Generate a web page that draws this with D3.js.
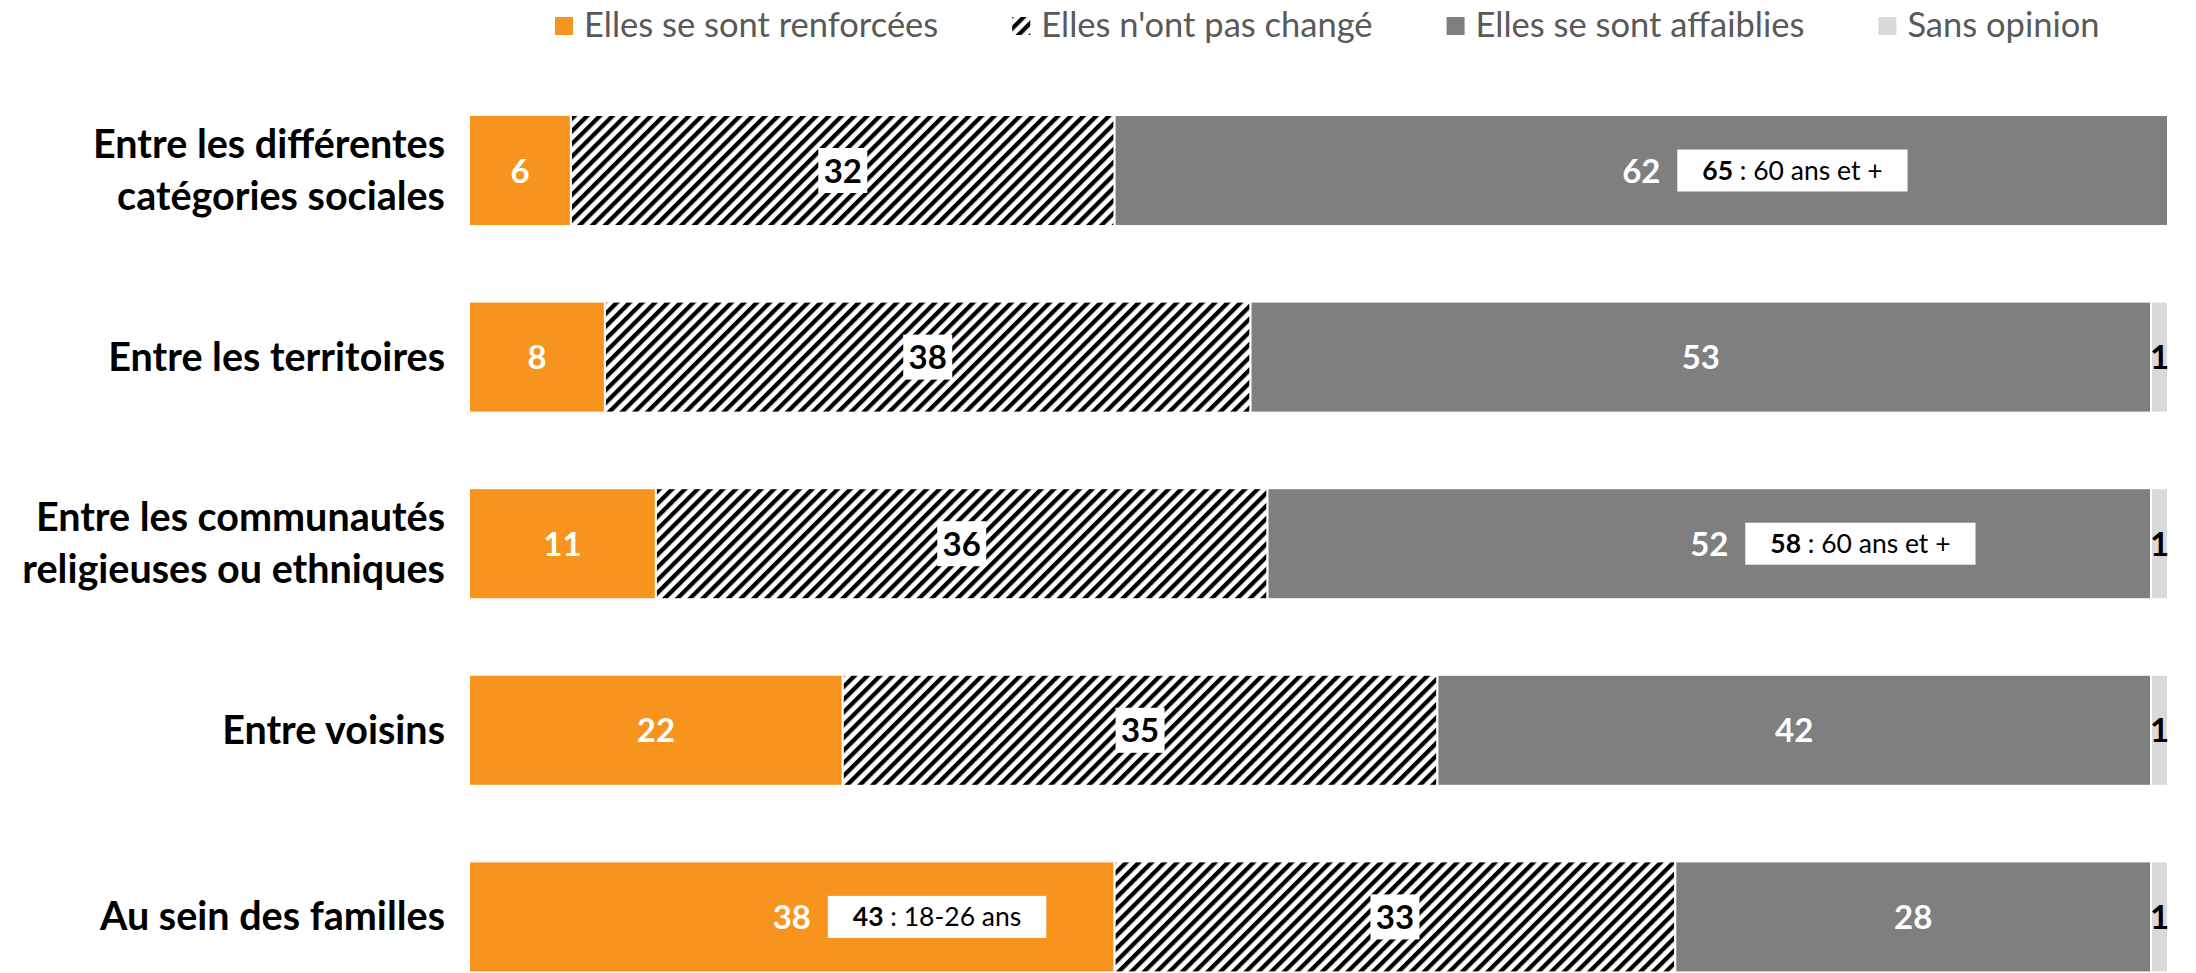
<!DOCTYPE html>
<html>
<head>
<meta charset="utf-8">
<script src="https://cdn.jsdelivr.net/npm/d3@7"></script>
<style>
    body { margin: 0; background: #fff; }
    svg { display: block; font-family: Lato, "Open Sans", sans-serif; }
</style>
</head>
<body>
<div id="chart"></div>
<script>
'use strict';

// categories (one array of lines per bar)
let categories = [
    ["Entre les différentes", "catégories sociales"],
    ["Entre les territoires"],
    ["Entre les communautés", "religieuses ou ethniques"],
    ["Entre voisins"],
    ["Au sein des familles"]
];

// series values, %
let renforcees  = [6, 8, 11, 22, 38];
let pasChange   = [32, 38, 36, 35, 33];
let affaiblies  = [62, 53, 52, 42, 28];
let sansOpinion = [0, 1, 1, 1, 1];

let seriesNames = ["Elles se sont renforcées", "Elles n'ont pas changé", "Elles se sont affaiblies", "Sans opinion"];

// sub-group callouts: bar index, series index, value, text
let calloutRow    = [0, 2, 4];
let calloutSeries = [2, 2, 0];
let calloutValue  = [65, 58, 43];
let calloutText   = ["60 ans et +", "60 ans et +", "18-26 ans"];

const WIDTH = 2196, HEIGHT = 973;

let svg = d3.select("#chart").append("svg")
    .attr("width", WIDTH)
    .attr("height", HEIGHT);

// hatch for "n'ont pas changé"
let defs = svg.append("defs");
defs.append("pattern")
    .attr("id", "hatch")
    .attr("patternUnits", "userSpaceOnUse")
    .attr("width", 9)
    .attr("height", 9)
    .attr("patternTransform", "rotate(45)")
    .call(p => {
        p.append("rect").attr("width", 9).attr("height", 9).attr("fill", "#fff");
        p.append("rect").attr("width", 4.3).attr("height", 9).attr("fill", "#000");
    });

let fills = ["#F7941D", "url(#hatch)", "#7F7F7F", "#D9D9D9"];
let labelColors = ["#fff", "#000", "#fff", "#000"];

let keys = categories.map((c, i) => i);
let values = [renforcees, pasChange, affaiblies, sansOpinion];

// stack the rows
let rows = keys.map(i => {
    let acc = 0;
    return values.map((s, j) => {
        let d = {row: i, series: j, x0: acc, x1: acc + s[i], value: s[i]};
        acc += s[i];
        return d;
    });
});

let x = d3.scaleLinear().domain([0, 100]).range([469, 2168]);
let y = d3.scaleBand().domain(keys).range([115, 972.4]).paddingInner(0.405).paddingOuter(0);

// bars
let rowG = svg.append("g").selectAll("g")
    .data(rows)
    .join("g");

rowG.selectAll("rect")
    .data(d => d.filter(s => s.value > 0))
    .join("rect")
    .attr("x", d => x(d.x0))
    .attr("y", d => y(d.row))
    .attr("width", d => x(d.x1) - x(d.x0))
    .attr("height", y.bandwidth())
    .attr("fill", d => fills[d.series])
    .attr("stroke", "#fff")
    .attr("stroke-width", 2);

// value labels
let labels = rowG.selectAll("g.lbl")
    .data(d => d.filter(s => s.value > 0))
    .join("g")
    .attr("class", "lbl")
    .attr("transform", d => `translate(${(x(d.x0) + x(d.x1)) / 2},${y(d.row) + y.bandwidth() / 2})`);

labels.filter(d => d.series === 1)
    .append("rect")
    .attr("x", -24.5)
    .attr("y", -22.5)
    .attr("width", 49)
    .attr("height", 45)
    .attr("fill", "#fff");

labels.append("text")
    .attr("text-anchor", "middle")
    .attr("y", 12)
    .attr("font-size", 33)
    .attr("font-weight", "bold")
    .attr("fill", d => labelColors[d.series])
    .text(d => d.value);

// callouts next to a value
calloutRow.forEach((r, k) => {
    let seg = rows[r][calloutSeries[k]];
    let cx = (x(seg.x0) + x(seg.x1)) / 2 + 36;
    let cy = y(r) + y.bandwidth() / 2;
    let g = svg.append("g").attr("transform", `translate(${cx},${cy})`);
    let box = g.append("rect").attr("fill", "#fff");
    let t = g.append("text")
        .attr("font-size", 26.5)
        .attr("fill", "#000")
        .attr("y", 9.5);
    t.append("tspan").attr("font-weight", "bold").text(calloutValue[k]);
    t.append("tspan").text(" : " + calloutText[k]);
    let w = t.node().getComputedTextLength();
    let boxW = w + 50;
    t.attr("x", (boxW - w) / 2);
    box.attr("x", 0).attr("y", -21).attr("width", boxW).attr("height", 42);
});

// category labels
let cat = svg.append("g").selectAll("text")
    .data(keys)
    .join("text")
    .attr("text-anchor", "end")
    .attr("font-size", 39.5)
    .attr("font-weight", "bold")
    .attr("fill", "#000");

cat.each(function (i) {
    let lines = categories[i];
    let mid = y(i) + y.bandwidth() / 2;
    lines.forEach((line, k) => {
        d3.select(this).append("tspan")
            .attr("x", 445)
            .attr("y", mid + 13.5 + (k - (lines.length - 1) / 2) * 52)
            .text(line);
    });
});

// legend
let legend = svg.append("g").attr("transform", "translate(555,0)");
let lx = 0;
seriesNames.forEach((name, i) => {
    let item = legend.append("g").attr("transform", `translate(${lx},0)`);
    item.append("rect")
        .attr("y", 17)
        .attr("width", 18)
        .attr("height", 18)
        .attr("fill", fills[i]);
    let t = item.append("text")
        .attr("x", 29)
        .attr("y", 37)
        .attr("font-size", 34.5)
        .attr("fill", "#595959")
        .text(name);
    lx += 29 + t.node().getComputedTextLength() + 74;
});
</script>
</body>
</html>
